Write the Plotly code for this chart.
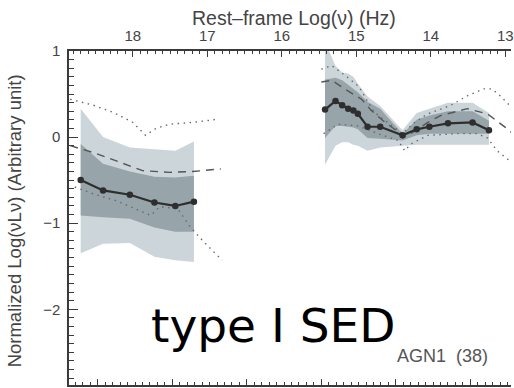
import plotly.graph_objects as go

# ---- X-ray segment (rest-frame log nu in Hz) ----
xray_nu = [18.70, 18.40, 18.04, 17.71, 17.43, 17.18]
xray_mean = [-0.50, -0.62, -0.67, -0.76, -0.80, -0.75]
xray_in_hi = [-0.08, -0.31, -0.40, -0.46, -0.47, -0.45]
xray_in_lo = [-0.91, -0.93, -0.95, -1.05, -1.10, -1.10]
xray_out_hi = [0.33, 0.00, -0.12, -0.14, -0.16, -0.05]
xray_out_lo = [-1.35, -1.24, -1.23, -1.39, -1.43, -1.45]

xray_dash_nu = [18.84, 18.53, 18.18, 17.87, 17.51, 17.20, 16.82]
xray_dash = [-0.10, -0.18, -0.29, -0.39, -0.41, -0.40, -0.37]
xray_dot1_nu = [18.84, 18.53, 18.27, 18.00, 17.83, 17.69, 17.51, 17.20, 16.84]
xray_dot1 = [0.44, 0.37, 0.29, 0.17, 0.02, 0.10, 0.15, 0.17, 0.21]
xray_dot2_nu = [18.78, 18.53, 18.22, 17.91, 17.76, 17.64, 17.40, 17.24, 17.11, 16.93, 16.80]
xray_dot2 = [-0.58, -0.66, -0.74, -0.85, -0.91, -0.81, -0.83, -1.03, -1.16, -1.32, -1.43]

# ---- UV / optical / near-IR segment ----
opt_nu = [15.42, 15.28, 15.19, 15.11, 15.04, 14.98, 14.85, 14.68, 14.38, 14.19, 14.02, 13.77, 13.44, 13.22]
opt_mean = [0.32, 0.42, 0.37, 0.33, 0.31, 0.27, 0.12, 0.12, 0.02, 0.09, 0.12, 0.16, 0.17, 0.08]
opt_in_hi = [0.67, 0.69, 0.66, 0.61, 0.56, 0.52, 0.41, 0.33, 0.04, 0.20, 0.25, 0.30, 0.30, 0.19]
opt_in_lo = [-0.01, 0.13, 0.13, 0.12, 0.11, 0.09, -0.01, -0.02, -0.04, 0.02, 0.04, 0.04, 0.04, 0.04]
opt_out_hi = [1.10, 0.83, 0.75, 0.74, 0.70, 0.62, 0.47, 0.36, 0.08, 0.28, 0.33, 0.40, 0.40, 0.28]
opt_out_lo = [-0.32, -0.10, -0.06, -0.06, -0.09, -0.10, -0.16, -0.12, -0.10, -0.09, -0.09, -0.09, -0.09, -0.09]

opt_dash_nu = [15.47, 15.33, 15.16, 14.93, 14.80, 14.64, 14.47, 14.38, 14.27, 14.04, 13.87, 13.51, 13.24, 12.95, 12.85]
opt_dash = [0.64, 0.66, 0.56, 0.44, 0.31, 0.19, 0.08, -0.01, 0.04, 0.17, 0.25, 0.33, 0.27, 0.08, 0.00]
opt_dot1_nu = [15.47, 15.33, 15.11, 14.96, 14.84, 14.76, 14.58, 14.38, 14.22, 14.04, 13.91, 13.73, 13.51,
               13.29, 13.18, 13.07, 12.98, 12.90]
opt_dot1 = [0.79, 0.83, 0.69, 0.58, 0.40, 0.29, 0.17, 0.04, 0.17, 0.27, 0.31, 0.37, 0.48,
            0.56, 0.56, 0.48, 0.40, 0.33]
opt_dot2_nu = [15.44, 15.24, 14.98, 14.71, 14.44, 14.35, 14.27, 14.04, 13.64, 13.38, 13.24, 13.11, 12.98, 12.90]
opt_dot2 = [0.04, 0.15, 0.13, 0.04, -0.04, -0.16, -0.08, 0.02, 0.04, 0.04, -0.01, -0.16, -0.25, -0.30]

top_ticks = [18, 17, 16, 15, 14, 13]
y_ticks = [1, 0, -1, -2]

X_RANGE = [18.857, 12.924]
Y_RANGE = [-2.88, 1.0]

LIGHT = "#cbd5da"
DARK = "#97a4a9"
LINE = "#2e2e2e"

fig = go.Figure()


def band(nu, hi, lo, color):
    fig.add_trace(go.Scatter(
        x=list(nu) + list(nu[::-1]), y=list(hi) + list(lo[::-1]),
        fill="toself", fillcolor=color, mode="lines", line=dict(width=0),
        hoverinfo="skip", showlegend=False))


def curve(nu, val, color, dash, width=1.4):
    fig.add_trace(go.Scatter(
        x=nu, y=val, mode="lines", line=dict(color=color, width=width, dash=dash),
        hoverinfo="skip", showlegend=False))


for nu, mean, ihi, ilo, ohi, olo in [
    (xray_nu, xray_mean, xray_in_hi, xray_in_lo, xray_out_hi, xray_out_lo),
    (opt_nu, opt_mean, opt_in_hi, opt_in_lo, opt_out_hi, opt_out_lo),
]:
    band(nu, ohi, olo, LIGHT)
    band(nu, ihi, ilo, DARK)

DOT = "1.5px,4.5px"
DASH = "8px,6px"
curve(xray_dot1_nu, xray_dot1, "#6a6a6a", DOT)
curve(xray_dot2_nu, xray_dot2, "#6a6a6a", DOT)
curve(opt_dot1_nu, opt_dot1, "#6a6a6a", DOT)
curve(opt_dot2_nu, opt_dot2, "#6a6a6a", DOT)
curve(xray_dash_nu, xray_dash, "#555555", DASH)
curve(opt_dash_nu, opt_dash, "#555555", DASH)

for nu, mean in [(xray_nu, xray_mean), (opt_nu, opt_mean)]:
    fig.add_trace(go.Scatter(
        x=nu, y=mean, mode="lines+markers",
        line=dict(color=LINE, width=2.2), marker=dict(color=LINE, size=6.5),
        hoverinfo="skip", showlegend=False))

AX = "#3a3a3a"
TICKFONT = dict(family="Liberation Sans, Arial, sans-serif", size=15, color="#444444")

fig.update_layout(
    width=514, height=388,
    margin=dict(l=69, r=0, t=51, b=3),
    paper_bgcolor="white", plot_bgcolor="white",
    xaxis=dict(
        side="top", range=X_RANGE, showgrid=False, zeroline=False,
        showline=True, linecolor=AX, linewidth=1.5, mirror=False,
        tickmode="array", tickvals=top_ticks, ticktext=[str(t) for t in top_ticks],
        ticks="inside", ticklen=6, tickwidth=1.2, tickcolor=AX,
        minor=dict(ticks="inside", ticklen=3.5, tickwidth=1, tickcolor=AX, dtick=0.1, tick0=13),
        tickfont=TICKFONT, ticklabeloverflow="allow", ticklabelstandoff=2,
    ),
    xaxis2=dict(
        overlaying="x", side="bottom", anchor="y", range=X_RANGE,
        showgrid=False, zeroline=False, showline=True, linecolor=AX, linewidth=1.5,
        tickmode="linear", tick0=18.47, dtick=1, showticklabels=False,
        ticks="inside", ticklen=6, tickwidth=1.2, tickcolor=AX,
        minor=dict(ticks="inside", ticklen=3, tickwidth=1, tickcolor=AX, dtick=0.1, tick0=18.47),
    ),
    yaxis=dict(
        range=Y_RANGE, showgrid=False, zeroline=False,
        showline=True, linecolor=AX, linewidth=1.5, mirror=False,
        tickmode="array", tickvals=y_ticks,
        ticks="inside", ticklen=9, tickwidth=1.2, tickcolor=AX,
        minor=dict(ticks="inside", ticklen=5, tickwidth=1, tickcolor=AX, dtick=0.1, tick0=0),
        tickfont=TICKFONT, ticklabelstandoff=4,
    ),
)

# keep the lower frequency axis alive
fig.add_trace(go.Scatter(x=[xray_nu[0]], y=[xray_mean[0]], xaxis="x2", mode="markers",
                         marker=dict(opacity=0), hoverinfo="skip", showlegend=False))

PW, PH = 445.0, 334.0
fig.add_annotation(text="Rest\u2013frame Log(\u03bd) (Hz)", xref="paper", yref="paper",
                   x=(296 - 69) / PW, y=(385 - 18) / PH, xanchor="center", yanchor="middle",
                   showarrow=False,
                   font=dict(family="Liberation Sans, Arial, sans-serif", size=19.5, color="#444444"))
fig.add_annotation(text="Normalized Log(\u03bdL\u03bd) (Arbitrary unit)", xref="paper", yref="paper",
                   x=(14 - 69) / PW, y=(385 - 221) / PH, xanchor="center", yanchor="middle",
                   textangle=-90, showarrow=False,
                   font=dict(family="Liberation Sans, Arial, sans-serif", size=18.5, color="#444444"))
fig.add_annotation(text="type I SED", xref="paper", yref="paper",
                   x=(150 - 69) / PW, y=(385 - 325) / PH, xanchor="left", yanchor="middle",
                   showarrow=False,
                   font=dict(family="DejaVu Sans, Verdana, sans-serif", size=47, color="#000000"))
fig.add_annotation(text="AGN1\u00a0 (38)", xref="paper", yref="paper",
                   x=(397 - 69) / PW, y=(385 - 356) / PH, xanchor="left", yanchor="middle",
                   showarrow=False,
                   font=dict(family="Liberation Sans, Arial, sans-serif", size=18, color="#555555"))

fig.write_html("out.html")
